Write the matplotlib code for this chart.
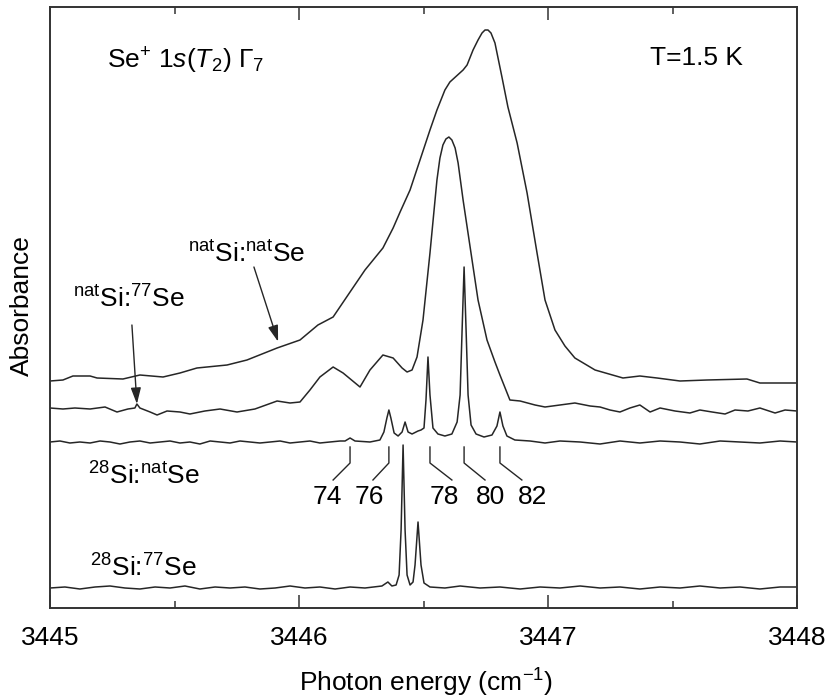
import numpy as np
import matplotlib.pyplot as plt
from matplotlib.ticker import MultipleLocator

plt.rcParams['font.family'] = ['Liberation Sans', 'DejaVu Sans']
plt.rcParams['mathtext.fontset'] = 'custom'
plt.rcParams['mathtext.rm'] = 'Liberation Sans'
plt.rcParams['mathtext.it'] = 'Liberation Sans:italic'
plt.rcParams['mathtext.bf'] = 'Liberation Sans:bold'
plt.rcParams['font.size'] = 19

# natSi:natSe (top trace), energy in cm^-1, absorbance in arb. units (offset included)
natnat_x = [3445.000, 3445.052, 3445.092, 3445.161, 3445.189, 3445.293, 3445.361, 3445.454, 3445.522, 3445.590,
            3445.711, 3445.791, 3445.912, 3446.004, 3446.076, 3446.137, 3446.205, 3446.265, 3446.337, 3446.378,
            3446.406, 3446.446, 3446.486, 3446.526, 3446.554, 3446.586, 3446.606, 3446.659, 3446.675, 3446.699,
            3446.719, 3446.735, 3446.747, 3446.759, 3446.771, 3446.787, 3446.815, 3446.839, 3446.876, 3446.916,
            3446.956, 3446.988, 3447.028, 3447.068, 3447.108, 3447.189, 3447.301, 3447.369, 3447.438, 3447.530,
            3447.639, 3447.799, 3447.851, 3448.000]
natnat_y = [2.27, 2.28, 2.32, 2.32, 2.30, 2.29, 2.33, 2.31, 2.35, 2.40,
            2.43, 2.48, 2.60, 2.68, 2.83, 2.91, 3.16, 3.38, 3.60, 3.80,
            3.96, 4.18, 4.48, 4.78, 4.98, 5.18, 5.26, 5.38, 5.43, 5.58,
            5.68, 5.75, 5.78, 5.78, 5.75, 5.65, 5.31, 5.01, 4.65, 4.15,
            3.55, 3.08, 2.78, 2.62, 2.50, 2.38, 2.30, 2.32, 2.30, 2.27,
            2.28, 2.29, 2.25, 2.25]

# natSi:77Se
nat77_x = [3445.000, 3445.052, 3445.100, 3445.161, 3445.221, 3445.269, 3445.313, 3445.341, 3445.349, 3445.361,
           3445.402, 3445.430, 3445.470, 3445.522, 3445.562, 3445.622, 3445.683, 3445.751, 3445.823, 3445.912,
           3445.964, 3446.004, 3446.044, 3446.084, 3446.137, 3446.177, 3446.245, 3446.285, 3446.337, 3446.378,
           3446.414, 3446.434, 3446.454, 3446.474, 3446.498, 3446.526, 3446.554, 3446.566, 3446.578, 3446.590,
           3446.602, 3446.614, 3446.627, 3446.639, 3446.659, 3446.695, 3446.719, 3446.755, 3446.787, 3446.807,
           3446.847, 3446.888, 3446.948, 3446.988, 3447.048, 3447.108, 3447.169, 3447.209, 3447.249, 3447.289,
           3447.329, 3447.369, 3447.410, 3447.450, 3447.510, 3447.570, 3447.610, 3447.659, 3447.711, 3447.751,
           3447.803, 3447.851, 3447.912, 3447.952, 3448.000]
nat77_y = [2.00, 1.99, 2.00, 1.99, 2.01, 1.96, 1.99, 2.00, 2.04, 2.00,
           1.96, 1.93, 1.97, 1.96, 1.94, 1.97, 1.99, 1.96, 1.99, 2.07,
           2.05, 2.06, 2.18, 2.31, 2.41, 2.35, 2.21, 2.38, 2.53, 2.50,
           2.40, 2.36, 2.38, 2.51, 2.88, 3.55, 4.28, 4.50, 4.63, 4.69,
           4.71, 4.68, 4.60, 4.45, 4.08, 3.48, 3.08, 2.68, 2.46, 2.33,
           2.08, 2.07, 2.03, 2.01, 2.03, 2.05, 2.02, 2.01, 1.98, 1.96,
           2.00, 2.03, 1.96, 2.00, 1.97, 1.95, 1.98, 1.96, 1.94, 1.98,
           1.97, 2.00, 1.95, 1.98, 1.97]

# 28Si:natSe
si28nat_x = [3445.000, 3445.040, 3445.080, 3445.120, 3445.161, 3445.201, 3445.241, 3445.281, 3445.321, 3445.361,
             3445.402, 3445.442, 3445.482, 3445.522, 3445.562, 3445.602, 3445.643, 3445.683, 3445.723, 3445.763,
             3445.803, 3445.843, 3445.884, 3445.924, 3445.964, 3446.004, 3446.044, 3446.084, 3446.124, 3446.165,
             3446.185, 3446.205, 3446.225, 3446.285, 3446.325, 3446.341, 3446.353, 3446.361, 3446.369, 3446.382,
             3446.398, 3446.414, 3446.426, 3446.438, 3446.454, 3446.470, 3446.478, 3446.490, 3446.502, 3446.510,
             3446.518, 3446.526, 3446.538, 3446.558, 3446.586, 3446.614, 3446.635, 3446.647, 3446.655, 3446.663,
             3446.671, 3446.679, 3446.691, 3446.711, 3446.743, 3446.775, 3446.795, 3446.807, 3446.819, 3446.835,
             3446.867, 3446.928, 3446.988, 3447.048, 3447.129, 3447.209, 3447.289, 3447.369, 3447.450, 3447.530,
             3447.610, 3447.691, 3447.771, 3447.851, 3447.932, 3448.000]
si28nat_y = [1.66, 1.67, 1.65, 1.66, 1.65, 1.67, 1.66, 1.64, 1.66, 1.67,
             1.65, 1.66, 1.67, 1.65, 1.66, 1.64, 1.67, 1.66, 1.65, 1.67,
             1.66, 1.65, 1.66, 1.67, 1.65, 1.66, 1.67, 1.65, 1.66, 1.67,
             1.67, 1.70, 1.67, 1.66, 1.68, 1.76, 1.90, 1.98, 1.90, 1.75,
             1.72, 1.76, 1.86, 1.76, 1.74, 1.76, 1.77, 1.78, 1.80, 2.08,
             2.51, 2.13, 1.80, 1.74, 1.72, 1.74, 1.86, 2.13, 2.78, 3.41,
             2.78, 2.13, 1.83, 1.74, 1.71, 1.73, 1.82, 1.96, 1.82, 1.72,
             1.68, 1.67, 1.65, 1.67, 1.66, 1.64, 1.67, 1.65, 1.67, 1.66,
             1.64, 1.67, 1.66, 1.65, 1.67, 1.66]

# 28Si:77Se
si2877_x = [3445.000, 3445.060, 3445.120, 3445.181, 3445.241, 3445.301, 3445.361, 3445.422, 3445.482, 3445.542,
            3445.602, 3445.663, 3445.723, 3445.783, 3445.843, 3445.904, 3445.964, 3446.024, 3446.084, 3446.145,
            3446.205, 3446.265, 3446.333, 3446.357, 3446.373, 3446.390, 3446.402, 3446.410, 3446.418, 3446.426,
            3446.434, 3446.446, 3446.458, 3446.466, 3446.478, 3446.490, 3446.502, 3446.526, 3446.586, 3446.647,
            3446.727, 3446.807, 3446.888, 3446.968, 3447.048, 3447.129, 3447.209, 3447.289, 3447.369, 3447.450,
            3447.530, 3447.610, 3447.691, 3447.771, 3447.851, 3447.932, 3448.000]
si2877_y = [0.20, 0.21, 0.19, 0.21, 0.22, 0.20, 0.19, 0.21, 0.20, 0.22,
            0.19, 0.21, 0.20, 0.21, 0.19, 0.20, 0.22, 0.20, 0.21, 0.19,
            0.21, 0.20, 0.22, 0.26, 0.22, 0.23, 0.33, 0.78, 1.63, 0.78,
            0.33, 0.23, 0.26, 0.43, 0.86, 0.43, 0.25, 0.21, 0.20, 0.22,
            0.20, 0.21, 0.19, 0.21, 0.20, 0.22, 0.20, 0.21, 0.19, 0.21,
            0.20, 0.22, 0.20, 0.21, 0.19, 0.21, 0.21]

# Se isotope line positions in 28Si:natSe
iso_labels = ['74', '76', '78', '80', '82']
iso_pos = [3446.205, 3446.361, 3446.526, 3446.663, 3446.807]
iso_label_x = [3446.112, 3446.281, 3446.582, 3446.771, 3446.936]
iso_dx = [-0.068, -0.064, 0.088, 0.084, 0.088]

fig = plt.figure(figsize=(8.27, 6.98), dpi=100)
ax = fig.add_axes([50 / 827, 1 - 608 / 698, 747 / 827, 601 / 698])

lc = '#262626'
for xs, ys in [(natnat_x, natnat_y), (nat77_x, nat77_y), (si28nat_x, si28nat_y), (si2877_x, si2877_y)]:
    ax.plot(xs, ys, color=lc, lw=1.1)

# isotope leader lines and labels
for pos, lab, lx, dx in zip(iso_pos, iso_labels, iso_label_x, iso_dx):
    ax.plot([pos, pos, pos + dx], [1.61, 1.45, 1.28], color=lc, lw=1.0)
    ax.text(lx, 1.04, lab, ha='center', va='baseline')

# sample labels
ax.text(3445.554, 3.46, r'$^{\mathrm{nat}}$Si:$^{\mathrm{nat}}$Se', va='baseline')
ax.text(3445.092, 3.00, r'$^{\mathrm{nat}}$Si:$^{\mathrm{77}}$Se', va='baseline')
ax.text(3445.153, 1.23, r'$^{\mathrm{28}}$Si:$^{\mathrm{nat}}$Se', va='baseline')
ax.text(3445.161, 0.31, r'$^{\mathrm{28}}$Si:$^{\mathrm{77}}$Se', va='baseline')
ax.text(3445.229, 5.40, r'Se$^{+}$ 1$\mathit{s}$($\mathit{T}_{2}$) $\Gamma_{7}$', va='baseline')
ax.text(3447.410, 5.43, 'T=1.5 K', va='baseline')

arrow = dict(arrowstyle='-|>,head_length=0.7,head_width=0.22', color=lc, lw=1.0,
             shrinkA=0, shrinkB=0, mutation_scale=14)
e1 = 3445.916
ax.annotate('', xy=(e1, np.interp(e1, natnat_x, natnat_y) + 0.06), xytext=(3445.819, 3.41), arrowprops=arrow)
e2 = 3445.349
ax.annotate('', xy=(e2, np.interp(e2, nat77_x, nat77_y)), xytext=(3445.329, 2.83), arrowprops=arrow)

ax.set_xlim(3445, 3448)
ax.set_ylim(0, 6.01)
ax.xaxis.set_major_locator(MultipleLocator(1))
ax.xaxis.set_minor_locator(MultipleLocator(0.5))
ax.set_yticks([])
ax.tick_params(which='both', direction='in', top=True, bottom=True, width=1.1, color='#333333')
ax.tick_params(which='major', length=9.5, pad=13)
ax.tick_params(which='minor', length=5)
for sp in ax.spines.values():
    sp.set_linewidth(1.4)
    sp.set_color('#333333')

fig.text(426 / 827, 1 - 692 / 698, 'Photon energy (cm$^{-1}$)', ha='center', va='baseline')
fig.text(22 / 827, 1 - 306 / 698, 'Absorbance', rotation=90, ha='center', va='center')

fig.savefig('out.png', dpi=100)
